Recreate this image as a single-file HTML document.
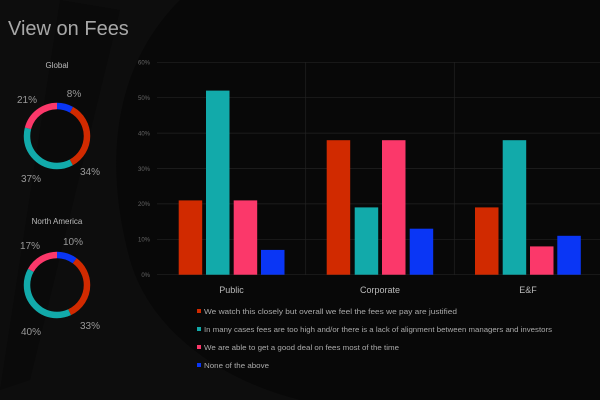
<!DOCTYPE html>
<html><head><meta charset="utf-8"><style>
html,body{margin:0;padding:0;background:#080808;}
svg{display:block;font-family:"Liberation Sans",sans-serif;}
</style></head><body>
<svg width="600" height="400" viewBox="0 0 600 400">
<rect width="600" height="400" fill="#080808"/>
<path d="M180 0 C 120 60, 100 150, 130 260 C 150 330, 220 380, 300 400 L 0 400 L 0 0 Z" fill="#0d0d0d"/>
<path d="M60 0 L120 10 L30 380 L0 390 Z" fill="#0a0a0a"/>
<text x="8" y="35" font-size="20" fill="#a8a8a8">View on Fees</text>
<g stroke="#222" stroke-width="0.7">
<line x1="157" y1="62.3" x2="600" y2="62.3"/>
<line x1="157" y1="97.7" x2="600" y2="97.7"/>
<line x1="157" y1="133.1" x2="600" y2="133.1"/>
<line x1="157" y1="168.5" x2="600" y2="168.5"/>
<line x1="157" y1="203.9" x2="600" y2="203.9"/>
<line x1="157" y1="239.3" x2="600" y2="239.3"/>
<line x1="157" y1="274.7" x2="600" y2="274.7"/>
<line x1="305.7" y1="62" x2="305.7" y2="275"/>
<line x1="454.3" y1="62" x2="454.3" y2="275"/>
</g>
<g font-size="6" fill="#666" text-anchor="end">
<text x="150" y="64.5">60%</text><text x="150" y="100">50%</text><text x="150" y="135.5">40%</text>
<text x="150" y="171">30%</text><text x="150" y="206">20%</text><text x="150" y="241.5">10%</text><text x="150" y="277">0%</text>
</g>
<g>
<rect x="178.7" y="200.4" width="23.5" height="74.3" fill="#d12a00"/>
<rect x="206" y="90.6" width="23.5" height="184.1" fill="#12aaaa"/>
<rect x="233.7" y="200.4" width="23.5" height="74.3" fill="#fb386a"/>
<rect x="261" y="249.9" width="23.5" height="24.8" fill="#0a36f5"/>
<rect x="326.7" y="140.2" width="23.5" height="134.5" fill="#d12a00"/>
<rect x="354.7" y="207.4" width="23.5" height="67.3" fill="#12aaaa"/>
<rect x="382" y="140.2" width="23.5" height="134.5" fill="#fb386a"/>
<rect x="409.7" y="228.7" width="23.5" height="46" fill="#0a36f5"/>
<rect x="475" y="207.4" width="23.5" height="67.3" fill="#d12a00"/>
<rect x="502.7" y="140.2" width="23.5" height="134.5" fill="#12aaaa"/>
<rect x="530" y="246.4" width="23.5" height="28.3" fill="#fb386a"/>
<rect x="557.3" y="235.8" width="23.5" height="38.9" fill="#0a36f5"/>
</g>
<g font-size="9" fill="#bbb" text-anchor="middle">
<text x="231.5" y="293">Public</text><text x="380" y="293">Corporate</text><text x="528" y="293">E&amp;F</text>
</g>
<g font-size="7.5" fill="#aaa">
<rect x="197" y="309" width="4" height="4" fill="#d12a00"/><text x="204" y="314" textLength="253" lengthAdjust="spacingAndGlyphs">We watch this closely but overall we feel the fees we pay are justified</text>
<rect x="197" y="327" width="4" height="4" fill="#12aaaa"/><text x="204" y="332" textLength="348" lengthAdjust="spacingAndGlyphs">In many cases fees are too high and/or there is a lack of alignment between managers and investors</text>
<rect x="197" y="345" width="4" height="4" fill="#fb386a"/><text x="204" y="350" textLength="195" lengthAdjust="spacingAndGlyphs">We are able to get a good deal on fees most of the time</text>
<rect x="197" y="363" width="4" height="4" fill="#0a36f5"/><text x="204" y="368" textLength="65" lengthAdjust="spacingAndGlyphs">None of the above</text>
</g>
<g fill="none" stroke-width="6.5" transform="translate(57,136) rotate(-90)">
<circle r="30" stroke="#0a36f5" stroke-dasharray="15.1 188.5" stroke-dashoffset="0"/>
<circle r="30" stroke="#d12a00" stroke-dasharray="64.1 188.5" stroke-dashoffset="-15.1"/>
<circle r="30" stroke="#12aaaa" stroke-dasharray="69.7 188.5" stroke-dashoffset="-79.2"/>
<circle r="30" stroke="#fb386a" stroke-dasharray="39.6 188.5" stroke-dashoffset="-148.9"/>
</g>
<g fill="none" stroke-width="6.5" transform="translate(57,285) rotate(-90)">
<circle r="30" stroke="#0a36f5" stroke-dasharray="18.9 188.5" stroke-dashoffset="0"/>
<circle r="30" stroke="#d12a00" stroke-dasharray="62.2 188.5" stroke-dashoffset="-18.9"/>
<circle r="30" stroke="#12aaaa" stroke-dasharray="75.4 188.5" stroke-dashoffset="-81.1"/>
<circle r="30" stroke="#fb386a" stroke-dasharray="32 188.5" stroke-dashoffset="-156.5"/>
</g>
<g font-size="10" fill="#999" text-anchor="middle">
<text x="57" y="68" font-size="8" fill="#bbb">Global</text>
<text x="27" y="103">21%</text><text x="74" y="97">8%</text><text x="90" y="175">34%</text><text x="31" y="182">37%</text>
<text x="57" y="224" font-size="8" fill="#bbb">North America</text>
<text x="30" y="249">17%</text><text x="73" y="245">10%</text><text x="90" y="329">33%</text><text x="31" y="335">40%</text>
</g>
</svg>
</body></html>
